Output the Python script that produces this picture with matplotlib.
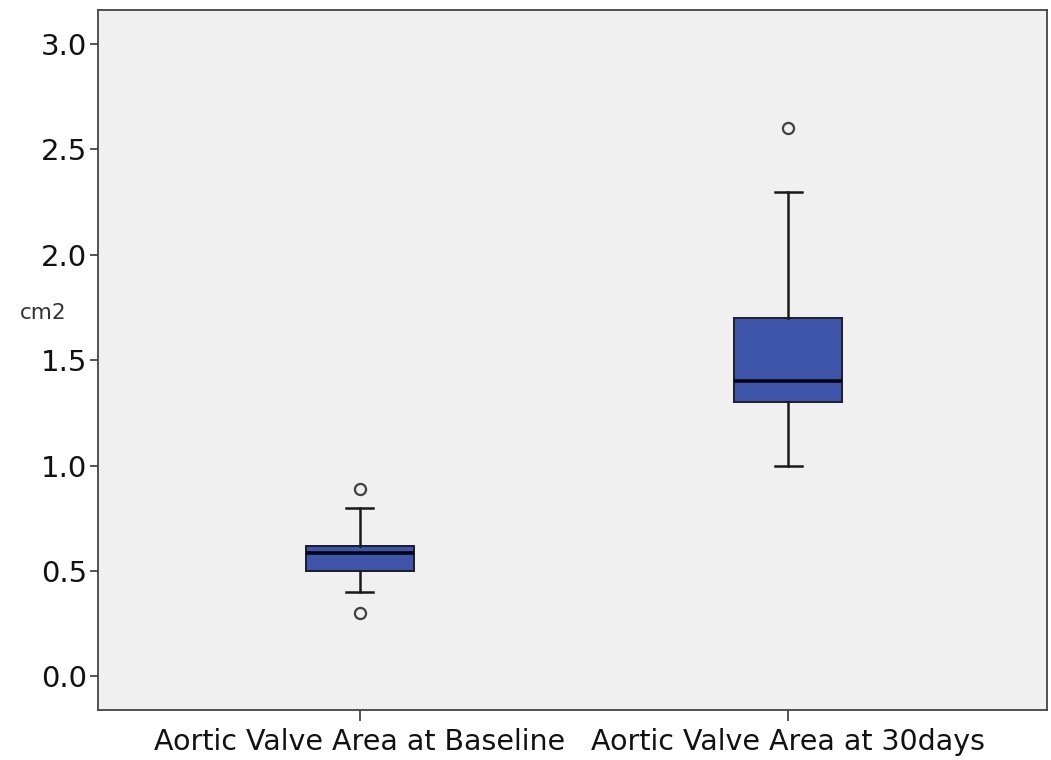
"""Boxplot of aortic valve area at baseline and at 30 days (SPSS style)."""

import matplotlib

matplotlib.use("Agg")
import matplotlib.pyplot as plt

plt.rcParams["font.family"] = ["DejaVu Sans"]

# data (cm2)
categories = ["Aortic Valve Area at Baseline", "Aortic Valve Area at 30days"]
q1 = [0.50, 1.30]
median = [0.585, 1.40]
q3 = [0.62, 1.70]
whisker_low = [0.40, 1.00]
whisker_high = [0.80, 2.30]
outliers = [[0.89, 0.30], [2.60]]
y_ticks = [0.0, 0.5, 1.0, 1.5, 2.0, 2.5, 3.0]

BOX_BLUE = "#3f55a9"
PANEL_GREY = "#f0f0f0"

stats = []
for i, name in enumerate(categories):
    stats.append({
        "label": name,
        "q1": q1[i], "med": median[i], "q3": q3[i],
        "whislo": whisker_low[i], "whishi": whisker_high[i],
        "fliers": outliers[i],
    })

fig = plt.figure(figsize=(10.51, 7.60), dpi=100)
ax = fig.add_axes([98 / 1051, 1 - 710 / 760, (1047 - 98) / 1051, 700 / 760])
ax.set_facecolor(PANEL_GREY)

ax.bxp(
    stats, positions=[1, 2], widths=0.252, capwidths=0.063,
    patch_artist=True, showfliers=True,
    boxprops=dict(facecolor=BOX_BLUE, edgecolor="#1c1c2a", linewidth=1.4),
    medianprops=dict(color="#050514", linewidth=2.6),
    whiskerprops=dict(color="#1a1a1a", linewidth=1.8),
    capprops=dict(color="#1a1a1a", linewidth=1.8),
    flierprops=dict(marker="o", markersize=8, markerfacecolor="none",
                    markeredgecolor="#404040", markeredgewidth=1.6),
)

ax.set_xlim(0.388, 2.605)
ax.set_ylim(-0.159, 3.161)
ax.set_yticks(y_ticks)
ax.set_yticklabels([f"{v:.1f}" for v in y_ticks])
ax.set_xticks([1, 2])
ax.set_xticklabels(categories)

for side in ("left", "bottom", "top", "right"):
    ax.spines[side].set_color("#444444")
    ax.spines[side].set_linewidth(1.3)

ax.tick_params(axis="y", length=6, width=1.3, color="#444444",
               labelsize=21, pad=2, labelcolor="#111111")
ax.tick_params(axis="x", length=8, width=1.3, color="#444444",
               labelsize=20.5, pad=5, labelcolor="#111111")

fig.text(20 / 1051, 1 - 313 / 760, "cm2", fontsize=15.5, color="#333333",
         ha="left", va="center")

fig.savefig("out.png", dpi=100)
plt.close(fig)
